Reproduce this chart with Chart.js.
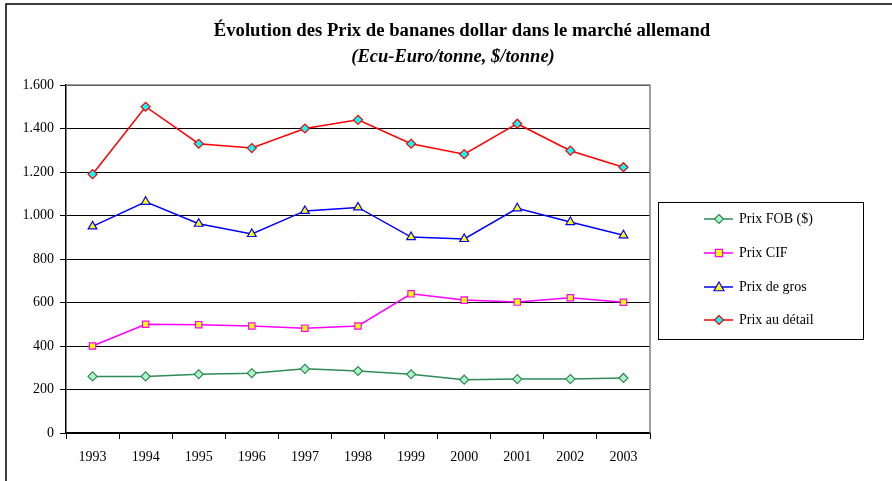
<!DOCTYPE html>
<html>
<head>
<meta charset="utf-8">
<script src="https://cdn.jsdelivr.net/npm/chart.js@4/dist/chart.umd.min.js"></script>
<style>
  html, body { margin: 0; padding: 0; background: #fff; }
  #wrap { position: relative; width: 892px; height: 481px; }
</style>
</head>
<body>
<div id="wrap"><canvas id="c" width="892" height="481"></canvas></div>
<script>
const titleText = "Évolution des Prix de bananes dollar dans le marché allemand";
const subtitleText = "(Ecu-Euro/tonne, $/tonne)";
const years = ["1993","1994","1995","1996","1997","1998","1999","2000","2001","2002","2003"];
const prixFOB = [260, 260, 270, 275, 295, 285, 270, 245, 248, 248, 253];
const prixCIF = [400, 500, 498, 492, 482, 492, 640, 611, 602, 622, 601];
const prixGros = [950, 1063, 962, 915, 1021, 1037, 901, 892, 1033, 970, 909];
const prixDetail = [1190, 1500, 1330, 1310, 1400, 1440, 1330, 1282, 1422, 1298, 1222];
const seriesNames = ["Prix FOB ($)", "Prix CIF", "Prix de gros", "Prix au détail"];
const yTicks = [0, 200, 400, 600, 800, 1000, 1200, 1400, 1600];

const SERIF = "'Liberation Serif', 'Times New Roman', serif";

function fmt(v) {
  return String(v).replace(/\B(?=(\d{3})+(?!\d))/g, '.');
}

function drawMarker(ctx, style, x, y, r) {
  if (style === 'rectRot') {
    ctx.moveTo(x, y - r); ctx.lineTo(x + r, y); ctx.lineTo(x, y + r); ctx.lineTo(x - r, y); ctx.closePath();
  } else if (style === 'rect') {
    const s = r * 0.8;
    ctx.rect(x - s, y - s, 2 * s, 2 * s);
  } else if (style === 'triangle') {
    ctx.moveTo(x, y - r); ctx.lineTo(x + r, y + r * 0.75); ctx.lineTo(x - r, y + r * 0.75); ctx.closePath();
  }
}

const decor = {
  id: 'decor',
  beforeDraw(chart) {
    const ctx = chart.ctx;
    ctx.save();
    ctx.fillStyle = '#fff';
    ctx.fillRect(0, 0, chart.width, chart.height);
    ctx.strokeStyle = '#000';
    ctx.lineWidth = 1.5;
    ctx.beginPath();
    ctx.moveTo(6, chart.height);
    ctx.lineTo(6, 4);
    ctx.lineTo(chart.width, 4);
    ctx.stroke();
    ctx.restore();
  },
  afterDraw(chart) {
    const ctx = chart.ctx;
    const a = chart.chartArea;
    ctx.save();
    ctx.strokeStyle = '#808080';
    ctx.lineWidth = 1.5;
    ctx.beginPath();
    ctx.moveTo(a.left, a.top);
    ctx.lineTo(a.right, a.top);
    ctx.lineTo(a.right, a.bottom);
    ctx.stroke();

    ctx.fillStyle = '#000';
    ctx.textAlign = 'center';
    ctx.textBaseline = 'middle';
    ctx.font = "bold 18.7px " + SERIF;
    ctx.fillText(titleText, 462, 31);
    ctx.font = "italic bold 18.5px " + SERIF;
    ctx.fillText(subtitleText, 453, 57);

    const lx = 658, ly = 202, lw = 205, lh = 137;
    ctx.strokeStyle = '#000';
    ctx.lineWidth = 1;
    ctx.strokeRect(lx + 0.5, ly + 0.5, lw, lh);
    const rows = [219, 253, 287, 320];
    chart.data.datasets.forEach((ds, i) => {
      const y = rows[i];
      ctx.strokeStyle = ds.borderColor;
      ctx.lineWidth = ds.borderWidth;
      ctx.beginPath();
      ctx.moveTo(704, y);
      ctx.lineTo(733, y);
      ctx.stroke();
      ctx.fillStyle = ds.pointBackgroundColor;
      ctx.strokeStyle = ds.pointBorderColor;
      ctx.lineWidth = ds.pointBorderWidth;
      ctx.beginPath();
      drawMarker(ctx, ds.pointStyle, 719, y, ds.pointRadius);
      ctx.fill();
      ctx.stroke();
      ctx.fillStyle = '#000';
      ctx.textAlign = 'left';
      ctx.font = "14px " + SERIF;
      ctx.fillText(ds.label, 739, y);
    });
    ctx.restore();
  }
};

function mkSet(label, data, line, fill, style, radius) {
  return {
    label, data,
    borderColor: line,
    borderWidth: 1.5,
    pointStyle: style,
    pointRadius: radius,
    pointHoverRadius: radius,
    pointBackgroundColor: fill,
    pointBorderColor: line,
    pointBorderWidth: 1.2,
    tension: 0,
    fill: false
  };
}

new Chart(document.getElementById('c'), {
  type: 'line',
  data: {
    labels: years,
    datasets: [
      mkSet(seriesNames[0], prixFOB, '#2e8b57', '#b0f5c8', 'rectRot', 4.5),
      mkSet(seriesNames[1], prixCIF, '#ff00ff', '#ffff00', 'rect', 4.5),
      mkSet(seriesNames[2], prixGros, '#0000ff', '#ffff00', 'triangle', 5),
      mkSet(seriesNames[3], prixDetail, '#ff0000', '#00ffff', 'rectRot', 4.5)
    ]
  },
  options: {
    responsive: false,
    animation: false,
    devicePixelRatio: 1,
    layout: { padding: { left: 0, right: 242, top: 85, bottom: 0 } },
    plugins: {
      legend: { display: false },
      title: { display: false },
      tooltip: { enabled: false }
    },
    scales: {
      x: {
        type: 'category',
        offset: true,
        grid: {
          offset: true,
          drawOnChartArea: false,
          drawTicks: true,
          tickLength: 6,
          color: '#000',
          lineWidth: 1
        },
        border: { display: true, color: '#000', width: 1.5 },
        ticks: {
          color: '#000',
          font: { family: SERIF, size: 14 },
          padding: 10,
          maxRotation: 0,
          autoSkip: false
        },
        afterFit(scale) { scale.height = 48; }
      },
      y: {
        min: 0,
        max: 1600,
        afterBuildTicks(scale) { scale.ticks = yTicks.map(v => ({ value: v })); },
        grid: {
          drawOnChartArea: true,
          drawTicks: true,
          tickLength: 6,
          color: '#000',
          lineWidth: 1
        },
        border: { display: true, color: '#000', width: 1.5 },
        ticks: {
          color: '#000',
          font: { family: SERIF, size: 14 },
          padding: 6,
          callback: (v) => fmt(v)
        },
        afterFit(scale) { scale.width = 66; }
      }
    }
  },
  plugins: [decor]
});
</script>
</body>
</html>
